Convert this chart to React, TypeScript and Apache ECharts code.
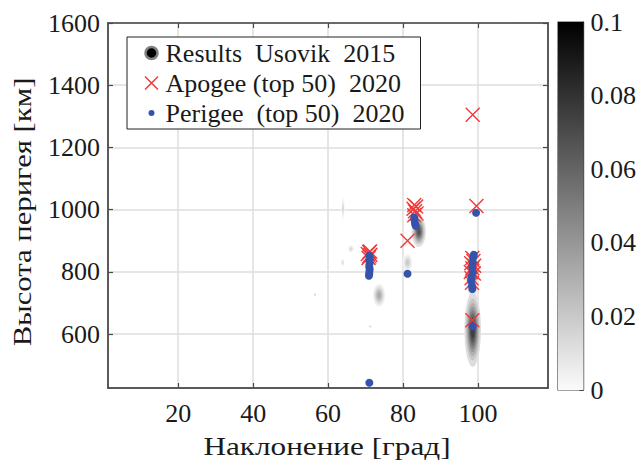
import React, { useEffect, useRef } from "react";
import * as echarts from "echarts";

// ---- data ----
const xTicks = [20, 40, 60, 80, 100];
const yTicks = [600, 800, 1000, 1200, 1400, 1600];
const cbTicks = [0, 0.02, 0.04, 0.06, 0.08, 0.1];
const xTitle = "Наклонение [град]";
const yTitle = "Высота перигея [км]";

// density blobs (Results Usovik 2015): [inclination, altitude, halfWidthDeg, halfHeightKm, peakDensity]
const densityBlobs = [
  [64.0, 1004, 0.4, 36, 0.016],
  [66.1, 874, 0.8, 12, 0.016],
  [63.9, 830, 0.5, 12, 0.014],
  [56.5, 727, 0.3, 4, 0.02],
  [71.3, 625, 0.3, 4, 0.02],
  [73.6, 725, 1.6, 36, 0.035],
  [81.2, 830, 1.3, 28, 0.022],
  [84.2, 930, 1.9, 50, 0.07],
  [98.6, 790, 1.7, 80, 0.04],
  [98.6, 615, 2.2, 120, 0.08],
  [98.6, 826, 0.6, 10, 0.1],
];

// Apogee (top 50) 2020: [inclination, altitude]
const apogee = [
  [71.0, 864], [70.6, 858], [71.3, 855], [71.0, 850], [70.8, 845], [71.2, 866],
  [83.0, 1015], [83.5, 1010], [82.8, 1003], [83.2, 995], [83.6, 988], [83.0, 982],
  [81.2, 900],
  [99.6, 1012], [98.6, 1305],
  [98.5, 845], [98.8, 835], [98.2, 828], [99.0, 820], [98.5, 812], [98.1, 800],
  [98.9, 795], [98.3, 780], [98.4, 765],
  [98.5, 645],
];

// Perigee (top 50) 2020: [inclination, altitude]
const perigee = [
  [71.0, 852], [71.1, 845], [71.0, 838], [71.1, 830], [71.0, 822], [71.0, 815],
  [71.1, 808], [71.0, 800], [71.0, 793], [70.9, 788],
  [71.0, 444],
  [81.2, 794],
  [83.0, 975], [83.1, 965], [83.2, 955], [83.4, 948],
  [99.5, 990],
  [98.9, 855], [98.7, 845], [98.6, 830], [98.5, 815], [98.6, 800], [98.3, 785],
  [98.2, 770], [98.4, 755], [98.5, 745],
  [98.6, 625],
];

const colorbarValue = [0.1];

const seriesNames = ["Results  Usovik  2015", "Apogee (top 50)  2020", "Perigee  (top 50)  2020"];

const FONT = "Liberation Serif";
const TXT = "#1a1a1a";
const AX = "#4a4a4a";
const RED = "#f03a3a";
const BLUE = "#3553aa";

const crossPath = "path://M0,0L10,10M10,0L0,10";

export default function App() {
  const ref = useRef<HTMLDivElement>(null);
  useEffect(() => {
    if (!ref.current) return;
    const chart = echarts.init(ref.current, undefined, { renderer: "svg" });

    const gray = (d: number) => {
      const g = Math.round(255 * (1 - Math.min(1, d / 0.1)));
      return `rgb(${g},${g},${g})`;
    };

    const renderBlob = (params: any, api: any) => {
      const cx = api.value(0), cy = api.value(1);
      const hw = api.value(2), hh = api.value(3), peak = api.value(4);
      const c = api.coord([cx, cy]);
      const s = api.size([hw, hh]);
      const N = 9;
      const children: any[] = [];
      for (let k = 1; k < N; k++) {
        const f = k / N;
        const r = Math.sqrt(Math.log(1 / f) / Math.log(N));
        const d = peak * (f + 0.5 / N);
        children.push({
          type: "ellipse",
          shape: { cx: c[0], cy: c[1], rx: Math.max(0.6, s[0] * r), ry: Math.max(0.6, s[1] * r) },
          style: { fill: gray(d) },
        });
      }
      return { type: "group", children };
    };

    const axisLineStyle = { show: true, onZero: false, lineStyle: { color: AX, width: 1.5 } };
    const richLabel = { a: { fontSize: 26, color: TXT, fontFamily: FONT } };
    const richFmt = (v: number) => "{a|" + v + "}";

    chart.setOption({
      animation: false,
      grid: [
        { left: 108, top: 23, width: 440, height: 365, show: true, borderColor: "#666", borderWidth: 1.5, backgroundColor: "transparent" },
        { left: 558, top: 22, width: 26, height: 368, show: true, borderColor: "#444", borderWidth: 1.2, backgroundColor: "transparent" },
      ],
      graphic: [
        {
          type: "text", x: 327, y: 446, scaleX: 1.2,
          style: { text: xTitle, fontFamily: FONT, fontSize: 26, fill: TXT, textAlign: "center", textVerticalAlign: "middle" },
        },
        {
          type: "text", x: 22, y: 212, rotation: Math.PI / 2, scaleX: 1.18,
          style: { text: yTitle, fontFamily: FONT, fontSize: 26, fill: TXT, textAlign: "center", textVerticalAlign: "middle" },
        },
      ],
      legend: {
        show: true,
        orient: "vertical",
        left: 127,
        top: 37,
        padding: [3, 16, 3, 13],
        itemGap: 4,
        itemWidth: 18,
        itemHeight: 18,
        backgroundColor: "#ffffff",
        borderColor: "#222",
        borderWidth: 1,
        borderRadius: 0,
        selectedMode: false,
        formatter: (name: string) => "{a|" + name + "}",
        textStyle: { fontFamily: FONT, fontSize: 26, rich: richLabel },
        data: [
          { name: seriesNames[0], icon: "path://M0,0M18,18M3,9A6,6,0,1,1,15,9A6,6,0,1,1,3,9Z", itemStyle: { color: "#000", borderColor: "#808080", borderWidth: 2.5 } },
          { name: seriesNames[1], icon: "path://M0,0M18,18M2.5,2.5L15.5,15.5M15.5,2.5L2.5,15.5", itemStyle: { color: "none", borderColor: RED, borderWidth: 1.5 } },
          { name: seriesNames[2], icon: "path://M0,0M18,18M6,9A3,3,0,1,1,12,9A3,3,0,1,1,6,9Z", itemStyle: { color: BLUE, borderWidth: 0 } },
        ],
      },
      xAxis: [
        {
          type: "value", gridIndex: 0, min: 1.25, max: 118.7, position: "bottom",
          axisLine: axisLineStyle,
          axisTick: { show: true, inside: true, length: 5, customValues: xTicks, lineStyle: { color: AX, width: 1.2 } },
          axisLabel: { show: true, customValues: xTicks, margin: 12, formatter: richFmt, rich: richLabel },
          splitLine: { show: true, lineStyle: { color: "#dedede", width: 1.5 } },
        },
        {
          type: "value", gridIndex: 0, min: 1.25, max: 118.7, position: "top",
          axisLine: axisLineStyle,
          axisTick: { show: true, inside: true, length: 5, customValues: xTicks, lineStyle: { color: AX, width: 1.2 } },
          axisLabel: { show: false },
          splitLine: { show: false },
        },
        {
          type: "category", gridIndex: 1, data: ["cb"], show: false,
        },
      ],
      yAxis: [
        {
          type: "value", gridIndex: 0, min: 427, max: 1600, position: "left",
          axisLine: axisLineStyle,
          axisTick: { show: true, inside: true, length: 5, customValues: yTicks, lineStyle: { color: AX, width: 1.2 } },
          axisLabel: { show: true, customValues: yTicks, margin: 8, formatter: richFmt, rich: richLabel },
          splitLine: { show: true, lineStyle: { color: "#dedede", width: 1.5 } },
        },
        {
          type: "value", gridIndex: 0, min: 427, max: 1600, position: "right",
          axisLine: axisLineStyle,
          axisTick: { show: true, inside: true, length: 5, customValues: yTicks, lineStyle: { color: AX, width: 1.2 } },
          axisLabel: { show: false },
          splitLine: { show: false },
        },
        {
          type: "value", gridIndex: 1, min: 0, max: 0.1, interval: 0.02, position: "right",
          axisLine: { show: true, lineStyle: { color: "#444", width: 1.2 } },
          axisTick: { show: true, inside: true, length: 4, lineStyle: { color: "#444" } },
          axisLabel: {
            show: true, margin: 7, rich: richLabel,
            formatter: (v: number) => {
              const t = cbTicks.find((c) => Math.abs(c - v) < 1e-9);
              return t === undefined ? "" : "{a|" + String(t) + "}";
            },
          },
          splitLine: { show: false },
        },
      ],
      series: [
        {
          name: seriesNames[0],
          type: "custom",
          xAxisIndex: 0, yAxisIndex: 0,
          renderItem: renderBlob,
          clip: true,
          data: densityBlobs,
          encode: { x: 0, y: 1 },
          z: 1,
        },
        {
          name: seriesNames[1],
          type: "scatter",
          xAxisIndex: 0, yAxisIndex: 0,
          symbol: crossPath,
          symbolSize: 14,
          itemStyle: { color: "none", borderColor: RED, borderWidth: 1.4, opacity: 1 },
          data: apogee,
          z: 3,
        },
        {
          name: seriesNames[2],
          type: "scatter",
          xAxisIndex: 0, yAxisIndex: 0,
          symbol: "circle",
          symbolSize: 8,
          itemStyle: { color: BLUE, opacity: 1 },
          data: perigee,
          z: 4,
        },
        {
          name: "colorbar",
          type: "bar",
          xAxisIndex: 2, yAxisIndex: 2,
          barWidth: "100%",
          silent: true,
          itemStyle: {
            color: new echarts.graphic.LinearGradient(0, 0, 0, 1, [
              { offset: 0, color: "#000000" },
              { offset: 1, color: "#fbfbfb" },
            ]),
          },
          data: colorbarValue,
        },
      ],
    });
    return () => chart.dispose();
  }, []);

  return (
    <div
      ref={ref}
      style={{ position: "absolute", left: 0, top: 0, width: 639, height: 462 }}
    />
  );
}
